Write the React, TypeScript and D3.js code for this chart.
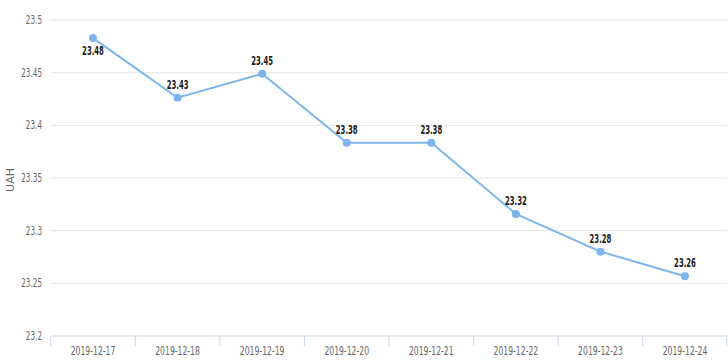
import React from "react";
import * as d3 from "d3";

const categories = ["2019-12-17", "2019-12-18", "2019-12-19", "2019-12-20", "2019-12-21", "2019-12-22", "2019-12-23", "2019-12-24"];
const values = [23.4828, 23.4262, 23.4489, 23.3834, 23.3834, 23.3159, 23.2801, 23.2568];
const yTicks = [23.2, 23.25, 23.3, 23.35, 23.4, 23.45, 23.5];
const yTitle = "UAH";

const W = 728, H = 364;
const left = 50.7, right = 727.3, top = 20, bottom = 336;
const font = "'DejaVu Sans', sans-serif";

function SText(props: { x: number; y: number; s: number; anchor: string; size: number; fill: string; bold?: boolean; children: string }) {
  return (
    <g transform={`translate(${props.x},${props.y}) scale(${props.s},1)`}>
      <text dy="0.35em" textAnchor={props.anchor} fontSize={props.size} fontWeight={props.bold ? "bold" : "normal"} fill={props.fill}>{props.children}</text>
    </g>
  );
}

export default function App() {
  const x = d3.scaleBand<string>().domain(categories).range([left, right]);
  const y = d3.scaleLinear().domain([23.2, 23.5]).range([bottom, top]);
  const cx = (c: string) => (x(c) as number) + x.bandwidth() / 2;
  const line = d3.line<number>().x((_, i) => cx(categories[i])).y((v) => y(v));
  const fmt = d3.format(".2f");
  return (
    <svg width={W} height={H} style={{ position: "absolute", left: 0, top: 0, fontFamily: font }}>
      <rect width={W} height={H} fill="#fff" />
      {yTicks.map((t) => (
        <g key={t}>
          {t > 23.2 && <line x1={left} x2={right} y1={y(t)} y2={y(t)} stroke="#e6e6e6" strokeWidth={1} />}
          <SText x={42} y={y(t)} s={0.63} anchor="end" size={11.5} fill="#666">{String(t)}</SText>
        </g>
      ))}
      <text transform={`translate(14,${(top + bottom) / 2 + 2}) rotate(-90)`} textAnchor="middle" fontSize={11} fill="#666">{yTitle}</text>
      <line x1={left} x2={right} y1={bottom} y2={bottom} stroke="#ccd6eb" strokeWidth={1} />
      {categories.map((c, i) => (
        <g key={c}>
          <line x1={x(c) as number} x2={x(c) as number} y1={bottom} y2={bottom + 10} stroke="#ccd6eb" />
          {i === categories.length - 1 && (
            <line x1={right - 0.5} x2={right - 0.5} y1={bottom} y2={bottom + 10} stroke="#ccd6eb" />
          )}
          <SText x={cx(c)} y={351} s={0.67} anchor="middle" size={11.5} fill="#666">{c}</SText>
        </g>
      ))}
      <path d={line(values) || ""} fill="none" stroke="#7cb5ec" strokeWidth={2} />
      {values.map((v, i) => (
        <circle key={i} cx={cx(categories[i])} cy={y(v)} r={4} fill="#7cb5ec" />
      ))}
      {values.map((v, i) => {
        const below = y(v) - 22 < top;
        return (
          <SText key={"l" + i} x={cx(categories[i])} y={below ? y(v) + 13 : y(v) - 13} s={0.6} anchor="middle" size={11.5} bold fill="#1a1a1a">{fmt(v)}</SText>
        );
      })}
    </svg>
  );
}
